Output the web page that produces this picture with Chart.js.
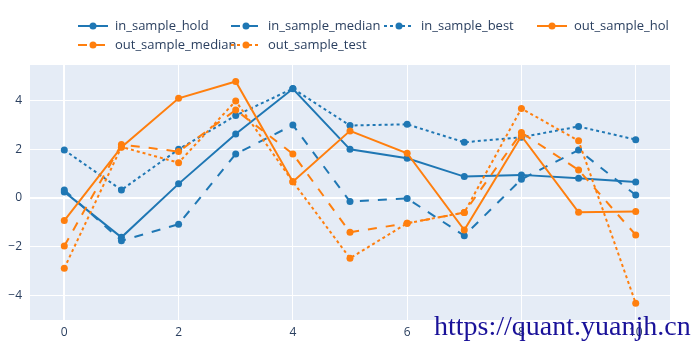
<!DOCTYPE html>
<html>
<head>
<meta charset="utf-8">
<script src="https://cdn.jsdelivr.net/npm/chart.js@4"></script>
<style>
  body { margin: 0; background: #fff; }
  #wrap { width: 700px; height: 350px; }
</style>
</head>
<body>
<div id="wrap"><canvas id="mainChart" width="700" height="350"></canvas></div>
<script>
var xs = [0, 1, 2, 3, 4, 5, 6, 7, 8, 9, 10];
var seriesNames = ['in_sample_hold', 'in_sample_median', 'in_sample_best', 'out_sample_hold', 'out_sample_median', 'out_sample_test'];
var inSampleHold = [0.25, -1.62, 0.58, 2.63, 4.49, 2.0, 1.63, 0.88, 0.95, 0.81, 0.66];
var inSampleMedian = [0.33, -1.76, -1.08, 1.81, 3.0, -0.15, -0.02, -1.55, 0.77, 1.97, 0.12];
var inSampleBest = [1.97, 0.33, 2.0, 3.39, 4.5, 2.98, 3.03, 2.29, 2.5, 2.94, 2.4];
var outSampleHold = [-0.93, 2.09, 4.1, 4.79, 0.67, 2.76, 1.84, -1.32, 2.55, -0.59, -0.56];
var outSampleMedian = [-1.98, 2.2, 1.91, 3.62, 1.81, -1.41, -1.04, -0.6, 2.69, 1.15, -1.52];
var outSampleTest = [-2.89, 2.1, 1.45, 3.99, 0.67, -2.48, -1.04, -0.6, 3.68, 2.35, -4.33];
var xTicks = [0, 2, 4, 6, 8, 10];
var yTicks = [-4, -2, 0, 2, 4];

var BLUE = '#1f77b4', ORANGE = '#ff7f0e';
var allValues = [inSampleHold, inSampleMedian, inSampleBest, outSampleHold, outSampleMedian, outSampleTest];
var colors = [BLUE, BLUE, BLUE, ORANGE, ORANGE, ORANGE];
var dashes = [[], [9, 9], [3, 3], [], [9, 9], [3, 3]];

function toPoints(vals) {
  return xs.map(function(x, i) { return { x: x, y: vals[i] }; });
}

var datasets = seriesNames.map(function(name, i) {
  return {
    label: name,
    data: toPoints(allValues[i]),
    borderColor: colors[i],
    backgroundColor: colors[i],
    pointBackgroundColor: colors[i],
    pointBorderWidth: 0,
    pointRadius: 3.5,
    borderWidth: 2,
    borderDash: dashes[i],
    tension: 0,
    fill: false,
    order: 10 - i
  };
});

// plot background like plotly
var bgPlugin = {
  id: 'plotBg',
  beforeDraw: function(chart) {
    var a = chart.chartArea, c = chart.ctx;
    c.save();
    c.fillStyle = '#e5ecf6';
    c.fillRect(a.left, a.top, a.right - a.left, a.bottom - a.top);
    c.restore();
  }
};

// legend laid out in fixed columns, plotly style (clipped at plot's right edge)
var legendPlugin = {
  id: 'fixedLegend',
  afterDraw: function(chart) {
    var c = chart.ctx;
    c.save();
    c.beginPath();
    c.rect(0, 0, 669, 60);
    c.clip();
    c.font = '13px "Open Sans", "Noto Sans", sans-serif';
    c.textBaseline = 'middle';
    chart.data.datasets.forEach(function(ds, i) {
      var col = i % 4, row = Math.floor(i / 4);
      var x0 = 78 + col * 153, y0 = 26 + row * 19;
      c.strokeStyle = ds.borderColor;
      c.lineWidth = 2;
      c.setLineDash(ds.borderDash);
      c.beginPath();
      c.moveTo(x0, y0);
      c.lineTo(x0 + 30, y0);
      c.stroke();
      c.setLineDash([]);
      c.fillStyle = ds.borderColor;
      c.beginPath();
      c.arc(x0 + 15, y0, 3.5, 0, Math.PI * 2);
      c.fill();
      c.fillStyle = '#2a3f5f';
      c.fillText(ds.label, x0 + 37, y0);
    });
    c.restore();

    // watermark
    c.save();
    c.font = '28px "Liberation Serif", serif';
    c.textBaseline = 'alphabetic';
    c.fillStyle = '#1a1299';
    c.fillText('https://quant.yuanjh.cn', 434, 335);
    c.restore();
  }
};

function gridWidth(ctx) {
  return ctx.tick && ctx.tick.value === 0 ? 2 : 1;
}

var ctx = document.getElementById('mainChart').getContext('2d');
var mainChart = new Chart(ctx, {
  type: 'line',
  data: { datasets: datasets },
  options: {
    responsive: false,
    animation: false,
    devicePixelRatio: 1,
    layout: { padding: { top: 65, right: 30, left: 0, bottom: 0 } },
    plugins: {
      legend: { display: false },
      tooltip: { enabled: false }
    },
    scales: {
      x: {
        type: 'linear',
        min: -0.6,
        max: 10.6,
        afterBuildTicks: function(scale) {
          scale.ticks = xTicks.map(function(v) { return { value: v }; });
        },
        afterFit: function(scale) { scale.height = 30; },
        grid: { color: '#ffffff', lineWidth: gridWidth, drawTicks: false },
        border: { display: false },
        ticks: {
          padding: 5,
          color: '#2a3f5f',
          font: { family: '"Open Sans", "Noto Sans", sans-serif', size: 12 },
          maxRotation: 0
        }
      },
      y: {
        min: -5.02,
        max: 5.47,
        afterBuildTicks: function(scale) {
          scale.ticks = yTicks.map(function(v) { return { value: v }; });
        },
        afterFit: function(scale) { scale.width = 30; },
        grid: { color: '#ffffff', lineWidth: gridWidth, drawTicks: false },
        border: { display: false },
        ticks: {
          padding: 8,
          color: '#2a3f5f',
          font: { family: '"Open Sans", "Noto Sans", sans-serif', size: 12 },
          callback: function(v) { return v < 0 ? '\u2212' + Math.abs(v) : String(v); }
        }
      }
    }
  },
  plugins: [bgPlugin, legendPlugin]
});
</script>
</body>
</html>
